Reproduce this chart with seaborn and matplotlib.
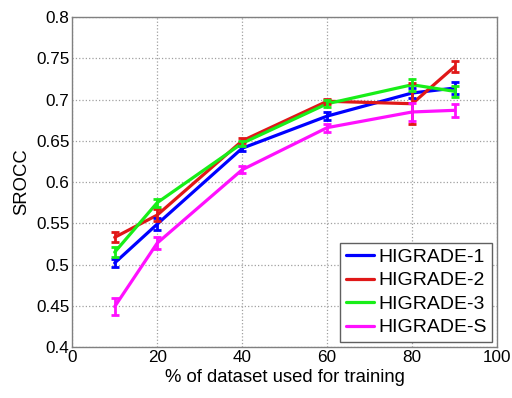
import pandas as pd
import numpy as np
import matplotlib.pyplot as plt
import seaborn as sns

# Values
train_pct = [10, 20, 40, 60, 80, 90]
series_names = ['HIGRADE-1', 'HIGRADE-2', 'HIGRADE-3', 'HIGRADE-S']
higrade_1 = [0.502, 0.549, 0.641, 0.680, 0.708, 0.714]
higrade_2 = [0.533, 0.560, 0.650, 0.698, 0.695, 0.740]
higrade_3 = [0.515, 0.575, 0.647, 0.695, 0.718, 0.710]
higrade_s = [0.449, 0.526, 0.615, 0.666, 0.685, 0.687]
err_1 = [0.005, 0.007, 0.003, 0.005, 0.006, 0.007]
err_2 = [0.006, 0.007, 0.003, 0.003, 0.025, 0.007]
err_3 = [0.006, 0.005, 0.003, 0.004, 0.007, 0.007]
err_s = [0.010, 0.007, 0.004, 0.005, 0.011, 0.008]
colors = ['#0000ff', '#e01818', '#18ee18', '#ff10ff']

values = [higrade_1, higrade_2, higrade_3, higrade_s]
errors = [err_1, err_2, err_3, err_s]

rows = []
for name, vals, errs in zip(series_names, values, errors):
    for x, v, e in zip(train_pct, vals, errs):
        rows.append({'pct': x, 'srocc': v, 'err': e, 'method': name})
df = pd.DataFrame(rows)

sns.set_style('whitegrid', {'text.color': 'black', 'axes.labelcolor': 'black',
                            'xtick.color': 'black', 'ytick.color': 'black'})
plt.rcParams['font.family'] = ['Liberation Sans', 'DejaVu Sans']

fig = plt.figure(figsize=(5.12, 3.98), dpi=100)
ax = fig.add_axes([0.141, 0.128, 0.830, 0.829])

sns.lineplot(data=df, x='pct', y='srocc', hue='method', palette=colors,
             linewidth=2.3, ax=ax)
for name, c in zip(series_names, colors):
    d = df[df['method'] == name]
    ax.errorbar(d['pct'], d['srocc'], yerr=d['err'], fmt='none', ecolor=c,
                elinewidth=2.0, capsize=3, capthick=2.0)

ax.set_xlim(0, 100)
ax.set_ylim(0.4, 0.8)
ax.set_xticks([0, 20, 40, 60, 80, 100])
ax.set_yticks(np.arange(0.4, 0.801, 0.05))
ax.set_yticklabels(['0.4', '0.45', '0.5', '0.55', '0.6', '0.65', '0.7', '0.75', '0.8'])
ax.set_xlabel('% of dataset used for training', fontsize=13.3, labelpad=3)
ax.set_ylabel('SROCC', fontsize=13.3, labelpad=4)
ax.tick_params(labelsize=12.3, direction='in', length=4, color='#808080',
               labelcolor='black', pad=2)
ax.grid(True, linestyle=':', color='#a0a0a0', linewidth=0.9)
for s in ax.spines.values():
    s.set_color('#808080')
    s.set_linewidth(1.0)

leg = ax.legend(loc='lower right', fontsize=14, handlelength=1.45,
                handletextpad=0.2, borderaxespad=0.25, borderpad=0.3,
                fancybox=False, framealpha=1, labelspacing=0.3)
leg.get_frame().set_edgecolor('#606060')
for line in leg.get_lines():
    line.set_linewidth(2.3)
for t in leg.get_texts():
    t.set_color('black')

plt.savefig('out.png', dpi=100)
